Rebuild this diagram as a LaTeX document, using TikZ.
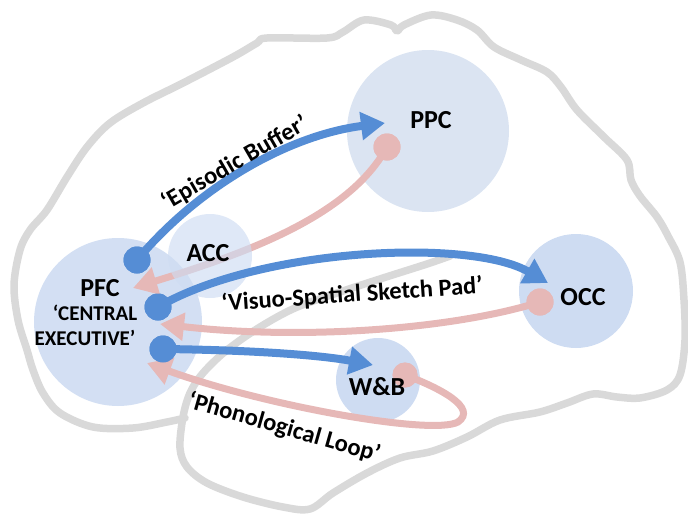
\documentclass[tikz,border=0pt]{standalone}
\usepackage{fontspec}
\setmainfont{Carlito}
\usetikzlibrary{arrows.meta}
\definecolor{brainline}{RGB}{217,217,217}
\definecolor{regionfill}{RGB}{206,220,242}
\definecolor{ppcfill}{RGB}{219,228,242}
\definecolor{fwd}{RGB}{85,141,213}
\definecolor{bwd}{RGB}{230,184,183}
\tikzset{
  outline/.style={draw=brainline, line width=7.5pt, line join=round, line cap=round},
  region/.style={circle, fill=regionfill, inner sep=0pt, draw=none},
  fwdline/.style={draw=fwd, line width=8pt, -{Triangle[length=24pt,width=27pt]}},
  bwdline/.style={draw=bwd, line width=7pt, -{Triangle[length=24pt,width=27pt]}},
  fwddot/.style={circle, fill=fwd, minimum size=27pt, inner sep=0pt},
  bwddot/.style={circle, fill=bwd, minimum size=27pt, inner sep=0pt},
  biglabel/.style={font=\bfseries\fontsize{26}{28}\selectfont, inner sep=0pt},
  smalllabel/.style={font=\bfseries\fontsize{21}{23}\selectfont, inner sep=0pt},
  pathlabel/.style={font=\bfseries\fontsize{24.5}{26}\selectfont, inner sep=0pt}
}
\begin{document}
\begin{tikzpicture}[x=1pt,y=-1pt]
\useasboundingbox (0,0) rectangle (688,514);

% sagittal brain outline, starting at the end of the lateral fissure
\draw[outline] plot[smooth, tension=0.55] coordinates {
  (450,256) (427,264) (383,278) (337,293) (295,308) (260,327) (227,350)
  (203,373) (190,393) (183,417) (180,448) (187,467) (207,483) (243,497)
  (283,507) (310,509) (333,493) (367,473) (400,458) (433,451) (467,437)
  (500,420) (540,412) (567,403) (593,394) (617,397) (640,398) (667,390)
  (680,375) (685,340) (684,300) (680,262) (668,236) (657,217) (640,196)
  (631,180) (627,160) (604,137) (577,110) (561,87) (547,72) (521,60)
  (494,47) (477,30) (457,20) (431,15) (404,25) (397,31) (391,25) (364,20)
  (343,32) (327,38) (267,38) (257,43) (233,57) (183,83) (143,103)
  (110,123) (87,147) (67,177) (47,210) (30,230) (20,250) (14,285)
  (18,320) (27,350) (33,370) (43,393) (60,413) (93,427) (133,428)
  (167,422) (185,418)
};

% cortical regions
\node[region, fill=ppcfill, minimum size=162pt] (ppc) at (428,131) {};
\node[region, minimum size=168pt, fill opacity=0.9] (pfc) at (118,322) {};
\node[region, minimum size=114pt] (occ) at (576,291) {};
\node[region, minimum size=84pt] (wb) at (378,380) {};

% anchor points of the loops
\node[fwddot] (d1) at (137,260) {};
\node[fwddot] (d2) at (158,307) {};
\node[fwddot] (d3) at (163,349) {};
\node[bwddot] (p1) at (387,147) {};
\node[bwddot] (p2) at (540,302) {};
\node[bwddot, minimum size=25pt] (p3) at (405,375) {};
\coordinate (t1) at (385,123);
\coordinate (t2) at (548,283);
\coordinate (t3) at (373,365);
\coordinate (q1) at (133,288);
\coordinate (q2) at (160,324);
\coordinate (q3) at (147,363);
\coordinate (loopturn) at (458,422);

% return path from PPC, seen through the ACC
\draw[bwdline] (p1.center) .. controls (350,215) and (250,252) .. (q1);
\node[region, minimum size=84pt, fill opacity=0.65] (acc) at (210,256) {};

% episodic buffer
\draw[fwdline] (d1.center) .. controls (200,185) and (290,135) .. (t1);
% visuo-spatial sketch pad
\draw[fwdline] (d2.center) .. controls (260,248) and (470,238) .. (t2);
\draw[bwdline] (p2.center) .. controls (450,330) and (300,340) .. (q2);
% phonological loop
\draw[fwdline] (d3.center) .. controls (250,350) and (320,355) .. (t3);
\draw[bwdline] (p3.center) .. controls (440,388) and (478,408) .. (loopturn)
  .. controls (432,436) and (262,405) .. (q3);

% redraw the anchor dots on top of their lines
\node[fwddot] at (d1) {};
\node[fwddot] at (d2) {};
\node[fwddot] at (d3) {};
\node[bwddot] at (p1) {};
\node[bwddot] at (p2) {};
\node[bwddot, minimum size=25pt] at (p3) {};

% labels
\node[biglabel] (lppc) at (431,120) {PPC};
\node[biglabel] (lacc) at (208,253) {ACC};
\node[biglabel] (locc) at (583,297) {OCC};
\node[biglabel] (lwb) at (377,387) {W\&B};
\node[biglabel] (lpfc) at (100,288) {PFC};
\node[smalllabel] (lce1) at (95,313) {‘CENTRAL};
\node[smalllabel] (lce2) at (85,338) {EXECUTIVE’};
\node[pathlabel, rotate=30] (leb) at (235,163) {‘Episodic Buffer’};
\node[pathlabel, rotate=4] (lvs) at (352,295) {‘Visuo-Spatial Sketch Pad’};
\node[pathlabel, rotate=-16] (lpl) at (284,428) {‘Phonological Loop’};
\end{tikzpicture}
\end{document}
